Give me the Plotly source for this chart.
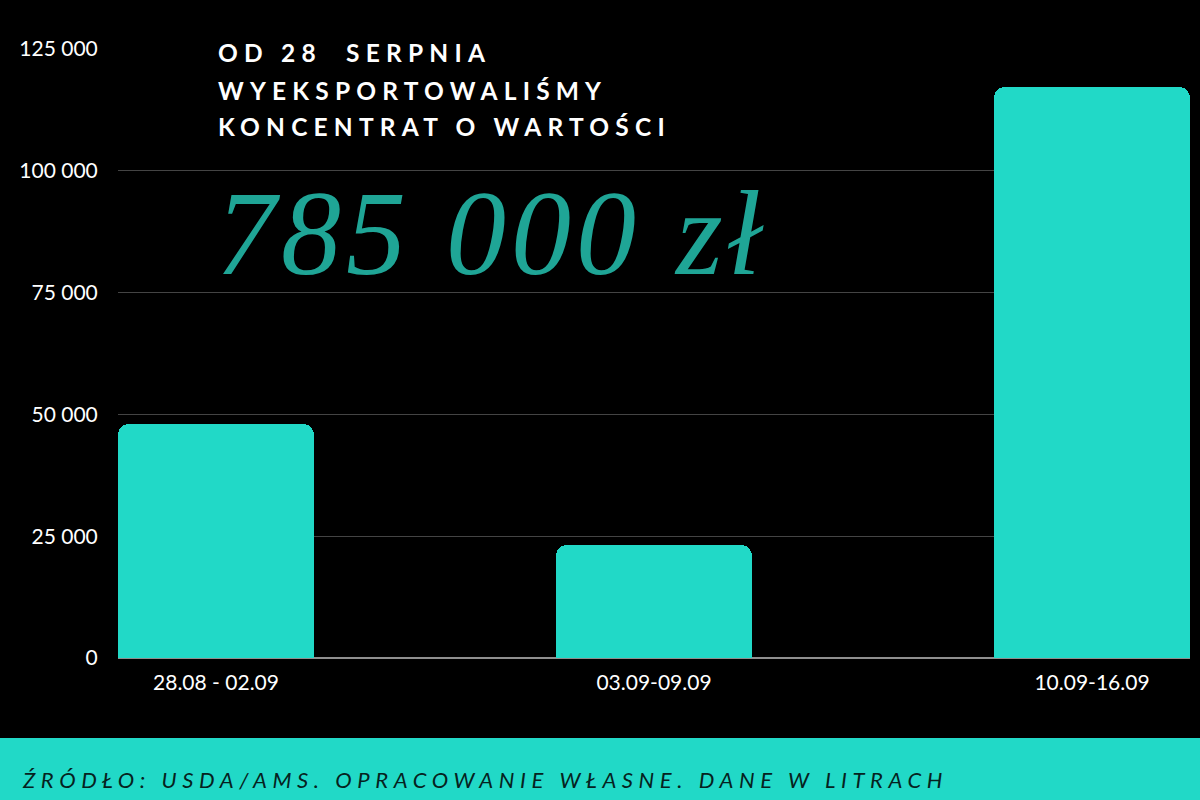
import plotly.graph_objects as go

categories = ["28.08 - 02.09", "03.09-09.09", "10.09-16.09"]
values = [48000, 23200, 117200]
y_ticks = [0, 25000, 50000, 75000, 100000, 125000]
title_lines = ["OD 28  SERPNIA", "WYEKSPORTOWALIŚMY", "KONCENTRAT O WARTOŚCI"]
headline = "785 000 zł"
source = "ŹRÓDŁO: USDA/AMS. OPRACOWANIE WŁASNE. DANE W LITRACH"

W, H = 1200, 800
L, R, T, B = 118, 1190, 49, 658
BAR = "#21D9C7"
NUM = "#1FA596"


def px(x):
    return (x - L) / (R - L)


def py(y):
    return (B - y) / (B - T)


fig = go.Figure(
    go.Bar(
        x=list(range(len(categories))),
        y=values,
        width=0.4475,
        marker=dict(color=BAR, cornerradius=11, line=dict(width=0)),
        hoverinfo="skip",
    )
)

annotations = []
line_y = [52, 90, 127]
for txt, yy in zip(title_lines, line_y):
    annotations.append(dict(
        text=f'<span style="letter-spacing:6.2px">{txt}</span>',
        xref="paper", yref="paper", x=px(216), y=py(yy),
        xanchor="left", yanchor="middle", showarrow=False,
        font=dict(family="Lato", size=24.5, color="#ffffff", weight="bold"),
    ))

annotations.append(dict(
    text=f'<span style="letter-spacing:5px">{headline}</span>',
    xref="paper", yref="paper", x=px(214), y=py(234),
    xanchor="left", yanchor="middle", showarrow=False,
    font=dict(family="Liberation Serif", size=120, color=NUM, style="italic"),
))

annotations.append(dict(
    text=f'<span style="letter-spacing:5.6px">{source}</span>',
    xref="paper", yref="paper", x=px(20), y=py(779),
    xanchor="left", yanchor="middle", showarrow=False,
    font=dict(family="Lato", size=22, color="#062220", style="italic"),
))

fig.update_layout(
    width=W, height=H,
    margin=dict(l=L, r=W - R, t=T, b=H - B, pad=0),
    paper_bgcolor="#000000",
    plot_bgcolor="#000000",
    showlegend=False,
    separators=". ",
    bargap=0,
    annotations=annotations,
    shapes=[dict(
        type="rect", xref="paper", yref="paper",
        x0=px(-5), x1=px(1205), y0=py(738), y1=py(805),
        fillcolor=BAR, line=dict(width=0), layer="below",
    )],
    xaxis=dict(
        tickmode="array",
        tickvals=list(range(len(categories))),
        ticktext=categories,
        range=[-0.22375, 2.22375],
        showgrid=False, zeroline=False, showline=False,
        ticks="outside", ticklen=6, tickcolor="rgba(0,0,0,0)",
        tickfont=dict(family="Lato", size=21, color="#ffffff"),
    ),
    yaxis=dict(
        range=[0, 125000],
        tickmode="array",
        tickvals=y_ticks,
        ticktext=[f"{v:,}".replace(",", " ") for v in y_ticks],
        showgrid=True, gridcolor="#444444", gridwidth=1,
        zeroline=True, zerolinecolor="#8f8f8f", zerolinewidth=1.5,
        showline=False,
        ticks="outside", ticklen=15, tickcolor="rgba(0,0,0,0)",
        tickfont=dict(family="Lato", size=21, color="#ffffff"),
    ),
)

fig.write_html(
    "out.html",
    config={"displayModeBar": False},
    post_script="document.body.style.margin='0';document.body.style.background='#000';",
)
